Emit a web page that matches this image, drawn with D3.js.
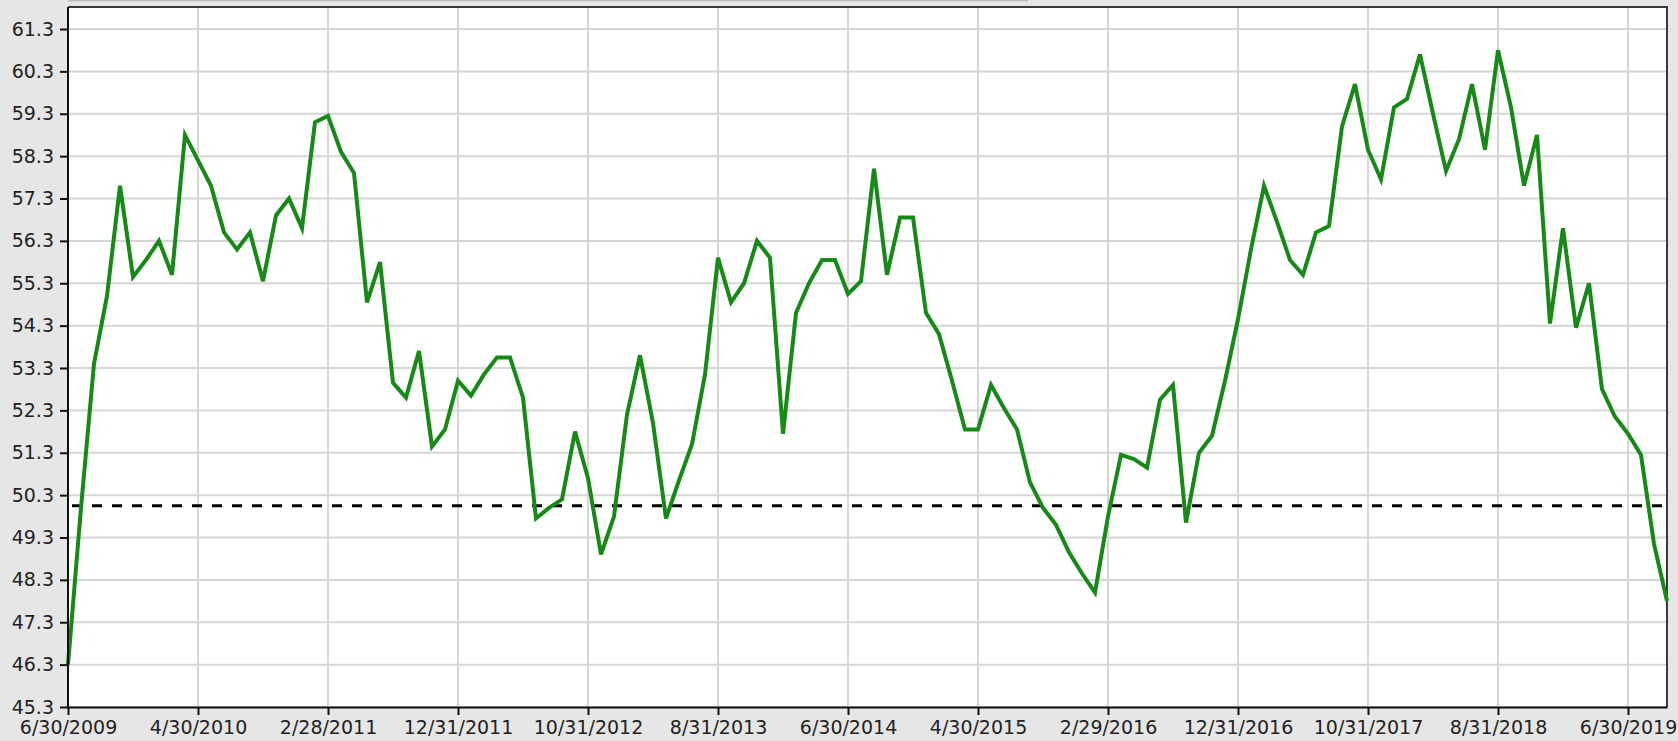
<!DOCTYPE html>
<html>
<head>
<meta charset="utf-8">
<script src="https://cdn.jsdelivr.net/npm/d3@7"></script>
<style>
  html, body { margin: 0; padding: 0; background: #e6e6e6; overflow: hidden; }
  svg { display: block; }
</style>
</head>
<body>
<div id="chart"></div>
<script>
// monthly index values, 6/30/2009 .. 9/30/2019 (one per month end)
const values = [
  46.3, 50.0, 53.4, 55.0, 57.6, 55.45, 55.85, 56.3, 55.5, 58.8,
  58.2, 57.6, 56.5, 56.1, 56.5, 55.35, 56.9, 57.3, 56.6, 59.1,
  59.25, 58.4, 57.9, 54.85, 55.8, 52.95, 52.6, 53.7, 51.45, 51.85,
  53.0, 52.65, 53.15, 53.55, 53.55, 52.6, 49.75, 50.0, 50.2, 51.8,
  50.7, 48.9, 49.8, 52.2, 53.6, 52.0, 49.75, 50.65, 51.5, 53.15,
  55.9, 54.85, 55.3, 56.3, 55.9, 51.75, 54.6, 55.3, 55.85, 55.85,
  55.05, 55.35, 58.0, 55.5, 56.85, 56.85, 54.6, 54.1, 53.0, 51.85,
  51.85, 52.9, 52.35, 51.85, 50.6, 50.0, 49.6, 48.95, 48.45, 48.0,
  49.8, 51.25, 51.15, 50.95, 52.55, 52.9, 49.65, 51.3, 51.7, 53.0,
  54.45, 56.1, 57.6, 56.75, 55.85, 55.5, 56.5, 56.65, 59.0, 60.0,
  58.45, 57.75, 59.45, 59.65, 60.7, 59.3, 57.95, 58.7, 60.0, 58.45,
  60.8, 59.45, 57.6, 58.8, 54.35, 56.6, 54.25, 55.3, 52.8, 52.15,
  51.75, 51.25, 49.15, 47.8
];

const tickIndex = [0, 10, 20, 30, 40, 50, 60, 70, 80, 90, 100, 110, 120];
const tickLabels = ["6/30/2009", "4/30/2010", "2/28/2011", "12/31/2011", "10/31/2012",
  "8/31/2013", "6/30/2014", "4/30/2015", "2/29/2016", "12/31/2016",
  "10/31/2017", "8/31/2018", "6/30/2019"];
const yTicks = [45.3, 46.3, 47.3, 48.3, 49.3, 50.3, 51.3, 52.3, 53.3,
  54.3, 55.3, 56.3, 57.3, 58.3, 59.3, 60.3, 61.3];
const threshold = 50.05;

const W = 1678, H = 741;
const margin = { top: 7, right: 11, bottom: 34, left: 68 };
const width = W - margin.left - margin.right;
const height = H - margin.top - margin.bottom;

const svg = d3.select("#chart").append("svg")
    .attr("width", W)
    .attr("height", H);

// faint strip along the very top
svg.append("line")
    .attr("x1", margin.left).attr("x2", 1028)
    .attr("y1", 0.5).attr("y2", 0.5)
    .attr("stroke", "#bdbdbd")
    .attr("stroke-width", 2);

const g = svg.append("g")
    .attr("transform", "translate(" + margin.left + "," + margin.top + ")");

const x = d3.scaleLinear()
    .domain([0, values.length - 1])
    .range([0, width]);

// 61.3 sits a bit below the top edge of the plot
const y = d3.scaleLinear()
    .domain([45.3, 61.3])
    .range([height, 22]);

g.append("rect")
    .attr("width", width)
    .attr("height", height)
    .attr("fill", "#fff");

// grid
g.append("g")
    .selectAll("line")
    .data(yTicks)
  .enter().append("line")
    .attr("x1", 0).attr("x2", width)
    .attr("y1", d => y(d)).attr("y2", d => y(d))
    .attr("stroke", "#d6d6d6")
    .attr("stroke-width", 2);

g.append("g")
    .selectAll("line")
    .data(tickIndex)
  .enter().append("line")
    .attr("x1", d => x(d)).attr("x2", d => x(d))
    .attr("y1", 0).attr("y2", height)
    .attr("stroke", "#d6d6d6")
    .attr("stroke-width", 2);

// top / right frame
g.append("path")
    .attr("d", "M0,0H" + width + "V" + height)
    .attr("fill", "none")
    .attr("stroke", "#3a3a3a")
    .attr("stroke-width", 2);

// reference line
g.append("line")
    .attr("x1", x(0)).attr("x2", x(values.length - 1))
    .attr("y1", y(threshold)).attr("y2", y(threshold))
    .attr("stroke", "#000")
    .attr("stroke-width", 3)
    .attr("stroke-dasharray", "10,10")
    .attr("stroke-dashoffset", 16);

const line = d3.line()
    .x((d, i) => x(i))
    .y(d => y(d));

g.append("path")
    .datum(values)
    .attr("fill", "none")
    .attr("stroke", "#178917")
    .attr("stroke-width", 4)
    .attr("stroke-linejoin", "miter")
    .attr("stroke-miterlimit", 4)
    .attr("d", line);

// axes
const yAxis = d3.axisLeft(y)
    .tickValues(yTicks)
    .tickFormat(d3.format(".1f"))
    .tickSize(8)
    .tickPadding(6)
    .tickSizeOuter(0);

const xAxis = d3.axisBottom(x)
    .tickValues(tickIndex)
    .tickFormat((d, i) => tickLabels[i])
    .tickSize(8)
    .tickPadding(6)
    .tickSizeOuter(0);

const yg = g.append("g").call(yAxis);
const xg = g.append("g")
    .attr("transform", "translate(0," + height + ")")
    .call(xAxis);

[yg, xg].forEach(a => {
    a.select(".domain").attr("stroke", "#111").attr("stroke-width", 2);
    a.selectAll(".tick line").attr("stroke", "#111").attr("stroke-width", 2);
    a.selectAll(".tick text")
        .attr("fill", "#222")
        .style("font-family", "'DejaVu Sans', sans-serif")
        .style("font-size", "19px");
});
// the y axis line runs up to the frame
yg.select(".domain").attr("d", "M0," + height + "V0");
</script>
</body>
</html>
